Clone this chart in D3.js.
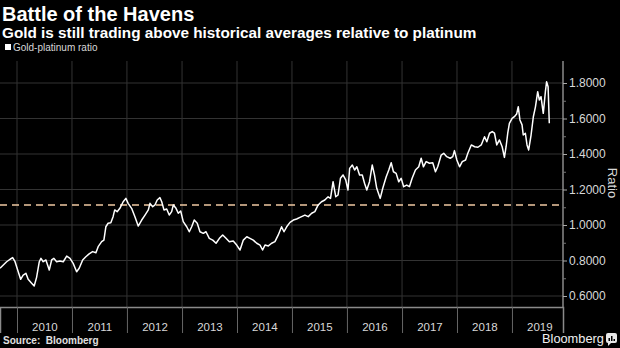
<!DOCTYPE html>
<html><head><meta charset="utf-8">
<script src="https://cdn.jsdelivr.net/npm/d3@7"></script>
<style>body{margin:0;background:#000;} svg{display:block;}</style>
</head><body>
<svg id="c" width="620" height="348"></svg>
<script>
const dates = [
"2009-09-10","2009-10-02","2009-10-24","2009-11-16","2009-12-03","2009-12-19","2010-01-09","2010-01-25","2010-02-11","2010-03-01",
"2010-03-16","2010-04-08","2010-04-25","2010-05-11","2010-05-29","2010-06-09","2010-06-24","2010-07-12","2010-08-03","2010-08-19",
"2010-09-03","2010-09-21","2010-10-13","2010-11-04","2010-11-27","2010-12-19","2011-01-09","2011-02-01","2011-02-18","2011-03-13",
"2011-04-03","2011-04-25","2011-05-18","2011-06-09","2011-06-24","2011-07-17","2011-08-01","2011-08-14","2011-08-29","2011-09-16",
"2011-10-01","2011-10-12","2011-10-28","2011-11-15","2011-12-07","2011-12-25","2012-01-09","2012-02-01","2012-02-23","2012-03-16",
"2012-04-08","2012-04-30","2012-05-22","2012-06-02","2012-06-20","2012-07-05","2012-07-20","2012-08-07","2012-08-19","2012-09-03",
"2012-09-21","2012-10-08","2012-10-24","2012-11-04","2012-11-22","2012-12-07","2012-12-23","2013-01-09","2013-02-01","2013-02-18",
"2013-03-06","2013-03-23","2013-04-12","2013-04-30","2013-05-22","2013-06-09","2013-07-01","2013-07-24","2013-08-15","2013-09-06",
"2013-09-28","2013-10-20","2013-11-11","2013-12-07","2013-12-30","2014-01-21","2014-02-12","2014-03-07","2014-03-28","2014-04-19",
"2014-05-12","2014-06-03","2014-06-20","2014-07-06","2014-07-28","2014-08-19","2014-09-10","2014-10-02","2014-10-24","2014-11-09",
"2014-11-27","2014-12-19","2015-01-10","2015-02-01","2015-02-23","2015-03-28","2015-04-19","2015-05-12","2015-06-02","2015-06-24",
"2015-07-16","2015-08-07","2015-08-29","2015-09-14","2015-10-01","2015-10-19","2015-11-03","2015-11-19","2015-12-06","2015-12-24",
"2016-01-08","2016-01-19","2016-02-06","2016-02-21","2016-03-07","2016-03-25","2016-04-12","2016-04-27","2016-05-12","2016-05-30",
"2016-06-17","2016-07-02","2016-07-17","2016-08-09","2016-08-26","2016-09-18","2016-10-05","2016-10-21","2016-11-05","2016-11-23",
"2016-12-10","2016-12-26","2017-01-12","2017-02-01","2017-02-19","2017-03-09","2017-03-31","2017-04-22","2017-05-08","2017-05-23",
"2017-06-10","2017-07-02","2017-07-24","2017-08-11","2017-08-26","2017-09-18","2017-10-05","2017-10-25","2017-11-17","2017-12-04",
"2017-12-15","2017-12-31","2018-01-18","2018-02-05","2018-02-27","2018-03-14","2018-04-06","2018-04-28","2018-05-20","2018-06-11",
"2018-07-03","2018-07-18","2018-08-05","2018-08-23","2018-09-07","2018-09-22","2018-10-10","2018-10-28","2018-11-12","2018-11-23",
"2018-12-04","2018-12-15","2019-01-02","2019-01-17","2019-02-01","2019-02-12","2019-02-23","2019-03-09","2019-03-17","2019-03-31",
"2019-04-11","2019-04-22","2019-05-08","2019-05-23","2019-06-06","2019-06-21","2019-07-02","2019-07-13","2019-07-28","2019-08-11",
"2019-08-19","2019-08-29","2019-09-06"];

const ratios = [
0.756,0.775,0.793,0.807,0.816,0.793,0.737,0.694,0.718,0.728,
0.694,0.672,0.656,0.705,0.793,0.812,0.793,0.803,0.746,0.803,
0.812,0.793,0.797,0.793,0.825,0.812,0.784,0.737,0.756,0.803,
0.821,0.837,0.850,0.844,0.878,0.906,0.915,0.990,1.010,1.013,
1.047,1.085,1.075,1.094,1.131,1.150,1.122,1.094,1.047,0.994,
1.028,1.056,1.085,1.122,1.103,1.113,1.141,1.154,1.131,1.085,
1.090,1.056,1.075,1.113,1.094,1.066,1.079,1.019,0.990,0.962,
0.990,1.028,1.010,0.962,0.953,0.962,0.925,0.915,0.897,0.925,
0.944,0.925,0.906,0.910,0.887,0.859,0.915,0.934,0.925,0.915,
0.897,0.887,0.859,0.887,0.882,0.897,0.906,0.944,0.990,0.962,
0.990,1.015,1.028,1.034,1.043,1.056,1.047,1.066,1.075,1.113,
1.131,1.141,1.159,1.150,1.244,1.159,1.169,1.263,1.282,1.254,
1.197,1.319,1.338,1.310,1.328,1.282,1.282,1.235,1.197,1.244,
1.338,1.282,1.207,1.150,1.207,1.272,1.310,1.351,1.300,1.291,
1.244,1.263,1.216,1.225,1.216,1.263,1.310,1.328,1.376,1.328,
1.357,1.348,1.351,1.300,1.328,1.394,1.404,1.385,1.376,1.385,
1.419,1.366,1.328,1.357,1.366,1.404,1.451,1.441,1.438,1.451,
1.497,1.469,1.517,1.526,1.517,1.451,1.479,1.441,1.381,1.441,
1.517,1.573,1.601,1.610,1.625,1.666,1.592,1.564,1.507,1.517,
1.451,1.423,1.507,1.610,1.666,1.751,1.704,1.723,1.629,1.751,
1.807,1.779,1.573];

const yearLabels = ["2010","2011","2012","2013","2014","2015","2016","2017","2018","2019"];
const yTickValues = [0.6,0.8,1.0,1.2,1.4,1.6,1.8];
const yMinorTickValues = [0.7,0.9,1.1,1.3,1.5,1.7];
const averageRatio = 1.113;
const xDomain = ["2009-09-10","2019-12-06"];

const titleText = "Battle of the Havens";
const subtitleText = "Gold is still trading above historical averages relative to platinum";
const legendLabel = "Gold-platinum ratio";
const axisTitle = "Ratio";
const sourceText = "Source:  Bloomberg";
const brandText = "Bloomberg";

const FONT = "'Liberation Sans', Arial, sans-serif";
const parse = d3.timeParse("%Y-%m-%d");
const data = dates.map((d,i)=>({date: parse(d), v: ratios[i]}));

const plotLeft = 0, plotRight = 563, plotTop = 61, plotBottom = 307;
const svg = d3.select("#c").style("font-family", FONT);
svg.append("rect").attr("width",620).attr("height",348).attr("fill","#000");

const x = d3.scaleTime().domain(xDomain.map(parse)).range([plotLeft, plotRight]);
const y = d3.scaleLinear().domain([0.6,1.8]).range([296,83]);

const yearStarts = yearLabels.map(s => new Date(+s, 0, 1));
const yearMids = yearLabels.map(s => new Date(+s, 6, 2));

// gridlines
svg.append("g").selectAll("line").data(yTickValues).join("line")
  .attr("x1", plotLeft).attr("x2", plotRight)
  .attr("y1", d=>y(d)).attr("y2", d=>y(d))
  .attr("stroke", "#333").attr("stroke-width", 1);
svg.append("g").selectAll("line").data(yearStarts).join("line")
  .attr("x1", d=>x(d)).attr("x2", d=>x(d))
  .attr("y1", plotTop).attr("y2", plotBottom)
  .attr("stroke", "#333").attr("stroke-width", 1);

// average dashed line
svg.append("line")
  .attr("x1", plotLeft).attr("x2", plotRight)
  .attr("y1", y(averageRatio)).attr("y2", y(averageRatio))
  .attr("stroke", "#f0c9a2").attr("stroke-width", 1.4)
  .attr("stroke-dasharray", "7,5");

// x axis
const xAxisG = svg.append("g").attr("transform", `translate(0,${plotBottom})`)
  .call(d3.axisBottom(x).tickValues(yearStarts).tickSize(26).tickFormat(""));
xAxisG.select(".domain").attr("stroke", "#8a8a8a").attr("stroke-width", 1.5);
xAxisG.selectAll(".tick line").attr("stroke", "#666");
const xLabG = svg.append("g").attr("transform", `translate(0,${plotBottom})`)
  .call(d3.axisBottom(x).tickValues(yearMids).tickSize(0).tickPadding(16)
    .tickFormat((d,i)=>yearLabels[i]));
xLabG.select(".domain").remove();
xLabG.selectAll("text").attr("fill", "#d8d8d8").style("font-size", "11.5px").style("font-family", FONT);

// y axis
svg.append("line").attr("x1", plotRight).attr("x2", plotRight)
  .attr("y1", plotTop).attr("y2", plotBottom)
  .attr("stroke", "#8a8a8a").attr("stroke-width", 1.5);
const yAxisG = svg.append("g").attr("transform", `translate(${plotRight},0)`)
  .call(d3.axisRight(y).tickValues(yTickValues).tickSize(4).tickPadding(2).tickFormat(d3.format(".4f")));
yAxisG.select(".domain").remove();
yAxisG.selectAll(".tick line").attr("stroke", "#aaa");
yAxisG.selectAll("text").attr("fill", "#d8d8d8").style("font-size", "12px").style("font-family", FONT);
const yMinorG = svg.append("g").attr("transform", `translate(${plotRight},0)`)
  .call(d3.axisRight(y).tickValues(yMinorTickValues).tickSize(3).tickFormat(""));
yMinorG.select(".domain").remove();
yMinorG.selectAll(".tick line").attr("stroke", "#777");

svg.append("text").text(axisTitle)
  .attr("transform", `translate(608,183) rotate(90)`)
  .attr("text-anchor", "middle").attr("fill", "#d8d8d8").style("font-size", "13px");

// line
const line = d3.line().x(d=>x(d.date)).y(d=>y(d.v));
svg.append("path").datum(data).attr("d", line)
  .attr("fill", "none").attr("stroke", "#fff").attr("stroke-width", 1.5)
  .attr("stroke-linejoin", "round");

// titles
svg.append("text").text(titleText).attr("x", 2).attr("y", 21)
  .attr("fill", "#fff").style("font-size", "20px").style("font-weight", "bold");
svg.append("text").text(subtitleText).attr("x", 2).attr("y", 38)
  .attr("fill", "#fff").style("font-size", "15.3px").style("font-weight", "bold");

// legend
svg.append("rect").attr("x", 5).attr("y", 44).attr("width", 6).attr("height", 6).attr("fill", "#fff");
svg.append("text").text(legendLabel).attr("x", 13).attr("y", 51)
  .attr("fill", "#d8d8d8").style("font-size", "10px");

// source
svg.append("text").text(sourceText).attr("x", 3).attr("y", 344)
  .attr("fill", "#e0e0e0").style("font-size", "10px").style("font-weight", "bold")
  .style("white-space", "pre");

// brand
svg.append("text").text(brandText).attr("x", 542).attr("y", 343)
  .attr("fill", "#f0f0f0").style("font-size", "12.8px");
const icon = svg.append("g").attr("transform", "translate(606,333)");
icon.append("rect").attr("width", 11).attr("height", 10).attr("rx", 2).attr("fill", "#e8e8e8");
icon.append("path").attr("d", "M2,10 L2,13 L5,10 Z").attr("fill", "#e8e8e8");
[[2.5,5],[5,3],[7.5,6]].forEach(([bx,by])=>{
  icon.append("rect").attr("x", bx).attr("y", by).attr("width", 1.5).attr("height", 8-by).attr("fill", "#000");
});
</script>
</body></html>
